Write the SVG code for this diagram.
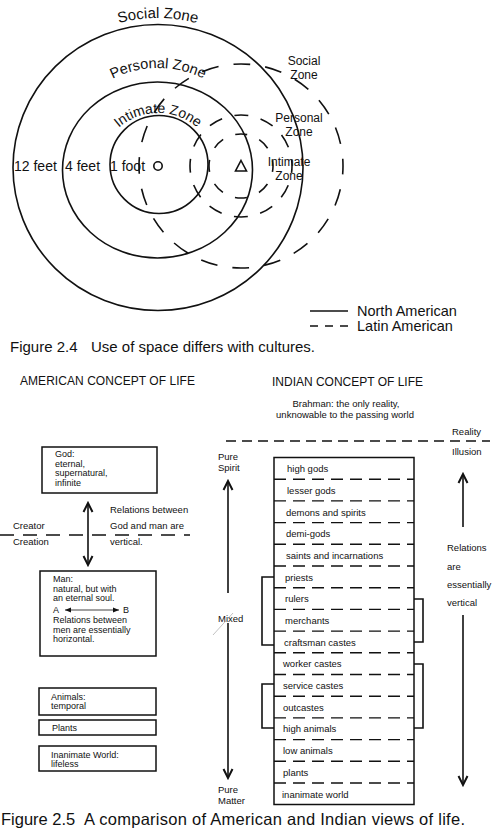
<svg xmlns="http://www.w3.org/2000/svg" width="500" height="840" viewBox="0 0 500 840">
<defs>
<style>
text{font-family:"Liberation Sans",Arial,sans-serif;fill:#111}
.ln{fill:none;stroke:#111;stroke-width:1.6}
.bx{fill:none;stroke:#111;stroke-width:1.5}
.f9{font-size:9.5px}
.f8{font-size:9px}
.z{font-size:12px;text-anchor:middle}
.hd{font-size:12px}
.cap{font-size:15px}
</style>
<marker id="chev" markerUnits="userSpaceOnUse" markerWidth="14" markerHeight="14" viewBox="0 0 14 14" refX="12" refY="7" orient="auto-start-reverse"><path d="M3,2.5 L12,7 L3,11.5" fill="none" stroke="#111" stroke-width="2"/></marker>
<marker id="sm" markerUnits="userSpaceOnUse" markerWidth="8" markerHeight="8" viewBox="0 0 8 8" refX="7" refY="4" orient="auto-start-reverse"><path d="M1,1.5 L7,4 L1,6.5 z" fill="#111"/></marker>
<path id="pSocial" d="M8,168 A150,150 0 0 1 308,168"/>
<path id="pPersonal" d="M56,170 A102,102 0 0 1 260,170"/>
<path id="pIntimate" d="M98,173 A60,60 0 0 1 218,173"/>
</defs>
<rect width="500" height="840" fill="#fff"/>

<g id="fig24">
  <g id="north-american">
    <ellipse class="ln" cx="158" cy="167.5" rx="145" ry="143"/>
    <ellipse class="ln" cx="157.5" cy="170" rx="95" ry="88"/>
    <ellipse class="ln" cx="159" cy="164.5" rx="49" ry="49"/>
    <circle class="ln" cx="158" cy="166" r="4.2" stroke-width="1.8"/>
    <text font-size="15"><textPath href="#pSocial" startOffset="50%" text-anchor="middle">Social Zone</textPath></text>
    <text font-size="14.5"><textPath href="#pPersonal" startOffset="50%" text-anchor="middle">Personal Zone</textPath></text>
    <text font-size="14"><textPath href="#pIntimate" startOffset="50%" text-anchor="middle">Intimate Zone</textPath></text>
    <text x="14" y="171" font-size="14">12 feet</text>
    <text x="65" y="171" font-size="14">4 feet</text>
    <text x="110" y="171" font-size="14">1 foot</text>
  </g>
  <g id="latin-american">
    <circle cx="241" cy="166" r="102" fill="none" stroke="#111" stroke-width="1.6" stroke-dasharray="17 15.05" stroke-dashoffset="8.5"/>
    <circle cx="241" cy="166" r="51" fill="none" stroke="#111" stroke-width="1.6" stroke-dasharray="14 12.7" stroke-dashoffset="7"/>
    <circle cx="241" cy="166" r="32" fill="none" stroke="#111" stroke-width="1.6" stroke-dasharray="12 13.13" stroke-dashoffset="6"/>
    <path class="ln" d="M241,160.5 L246.5,171 L235.5,171 Z" stroke-width="1.8" stroke-linejoin="miter"/>
    <text class="z" x="304" y="65">Social</text>
    <text class="z" x="304" y="79">Zone</text>
    <text class="z" x="299" y="122">Personal</text>
    <text class="z" x="299" y="136">Zone</text>
    <text class="z" x="289" y="166">Intimate</text>
    <text class="z" x="289" y="180">Zone</text>
  </g>
  <g id="legend">
    <line class="ln" x1="310" y1="311" x2="348" y2="311" stroke-width="1.4"/>
    <line class="ln" x1="310" y1="326" x2="348" y2="326" stroke-width="1.4" stroke-dasharray="8 7"/>
    <text x="357" y="316" font-size="14.5">North American</text>
    <text x="357" y="331" font-size="14.5">Latin American</text>
  </g>
  <text id="caption24" class="cap" y="352"><tspan x="10">Figure 2.4</tspan><tspan x="91" textLength="224">Use of space differs with cultures.</tspan></text>
</g>

<g id="american">
  <text class="hd" x="20" y="385" textLength="175">AMERICAN CONCEPT OF LIFE</text>
  <g id="god">
    <rect class="bx" x="42" y="447" width="115" height="46"/>
    <text class="f8" x="55" y="457">God:</text>
    <text class="f8" x="55" y="466.5">eternal,</text>
    <text class="f8" x="55" y="476">supernatural,</text>
    <text class="f8" x="55" y="485.5">infinite</text>
  </g>
  <g id="man">
    <rect class="bx" x="40" y="571" width="116" height="85"/>
    <text class="f8" x="53" y="582">Man:</text>
    <text class="f8" x="53" y="591.5">natural, but with</text>
    <text class="f8" x="53" y="601">an eternal soul.</text>
    <text class="f8" x="53" y="613">A</text>
    <text class="f8" x="123" y="613">B</text>
    <text class="f8" x="53" y="623">Relations between</text>
    <text class="f8" x="53" y="632.5">men are essentially</text>
    <text class="f8" x="53" y="642">horizontal.</text>
  </g>
  <g id="animals">
    <rect class="bx" x="39" y="688" width="117" height="27"/>
    <text class="f8" x="51" y="699.5">Animals:</text>
    <text class="f8" x="51" y="709">temporal</text>
  </g>
  <g id="plants">
    <rect class="bx" x="39" y="720" width="117" height="15"/>
    <text class="f8" x="52" y="731">Plants</text>
  </g>
  <g id="inanimate">
    <rect class="bx" x="39" y="746" width="117" height="25"/>
    <text class="f8" x="51" y="757.5">Inanimate World:</text>
    <text class="f8" x="51" y="767">lifeless</text>
  </g>
  <line id="creator-line" x1="0" y1="535" x2="190" y2="535" fill="none" stroke="#111" stroke-width="1.6" stroke-dasharray="14 9"/>
  <text class="f9" x="13" y="529">Creator</text>
  <text class="f9" x="13" y="545">Creation</text>
  <text class="f9" x="110" y="513">Relations between</text>
  <text class="f9" x="110" y="529">God and man are</text>
  <text class="f9" x="110" y="545">vertical.</text>
</g>

<g id="indian">
  <text class="hd" x="272" y="386" textLength="151">INDIAN CONCEPT OF LIFE</text>
  <text class="f9" x="346" y="407" text-anchor="middle">Brahman: the only reality,</text>
  <text class="f9" x="345" y="418" text-anchor="middle">unknowable to the passing world</text>
  <line id="reality-line" x1="226" y1="441" x2="490" y2="441" fill="none" stroke="#111" stroke-width="1.5" stroke-dasharray="10 6"/>
  <text class="f9" x="452" y="435">Reality</text>
  <text class="f9" x="452" y="455">Illusion</text>
  <text class="f9" x="218" y="460">Pure</text>
  <text class="f9" x="218" y="471">Spirit</text>
  <text class="f9" x="218" y="622">Mixed</text>
  <text class="f9" x="218" y="793">Pure</text>
  <text class="f9" x="218" y="804">Matter</text>
  <line x1="233" y1="613" x2="213" y2="635" stroke="#999" stroke-width="0.6"/>
  <text class="f9" x="447" y="551">Relations</text>
  <text class="f9" x="447" y="570">are</text>
  <text class="f9" x="447" y="588">essentially</text>
  <text class="f9" x="447" y="606">vertical</text>
  <g id="hierarchy">
    <rect class="bx" x="274" y="457.5" width="140" height="347"/>
    <g fill="none" stroke="#111" stroke-width="1.4" stroke-dasharray="12 7">
      <line x1="274" y1="479.2" x2="414" y2="479.2"/>
      <line x1="274" y1="500.9" x2="414" y2="500.9"/>
      <line x1="274" y1="522.6" x2="414" y2="522.6"/>
      <line x1="274" y1="544.3" x2="414" y2="544.3"/>
      <line x1="274" y1="566.0" x2="414" y2="566.0"/>
      <line x1="274" y1="587.7" x2="414" y2="587.7"/>
      <line x1="274" y1="609.4" x2="414" y2="609.4"/>
      <line x1="274" y1="631.1" x2="414" y2="631.1"/>
      <line x1="274" y1="652.8" x2="414" y2="652.8"/>
      <line x1="274" y1="674.5" x2="414" y2="674.5"/>
      <line x1="274" y1="696.2" x2="414" y2="696.2"/>
      <line x1="274" y1="717.9" x2="414" y2="717.9"/>
      <line x1="274" y1="739.6" x2="414" y2="739.6"/>
      <line x1="274" y1="761.3" x2="414" y2="761.3"/>
      <line x1="274" y1="783.0" x2="414" y2="783.0"/>
    </g>
    <g class="f9">
      <text x="287" y="472">high gods</text>
      <text x="287" y="494">lesser gods</text>
      <text x="286" y="515.5">demons and spirits</text>
      <text x="286" y="537">demi-gods</text>
      <text x="286" y="559">saints and incarnations</text>
      <text x="285" y="580.5">priests</text>
      <text x="285" y="602">rulers</text>
      <text x="285" y="624">merchants</text>
      <text x="284" y="645.5">craftsman castes</text>
      <text x="283" y="667">worker castes</text>
      <text x="283" y="689">service castes</text>
      <text x="283" y="710.5">outcastes</text>
      <text x="283" y="732">high animals</text>
      <text x="283" y="754">low animals</text>
      <text x="283" y="776">plants</text>
      <text x="282" y="797.5">inanimate world</text>
    </g>
  </g>
</g>

<g id="connectors">
  <line class="ln" x1="88" y1="503" x2="88" y2="565" marker-start="url(#chev)" marker-end="url(#chev)"/>
  <line x1="65" y1="610" x2="119" y2="610" stroke="#111" stroke-width="0.8" marker-start="url(#sm)" marker-end="url(#sm)"/>
  <line class="ln" x1="228" y1="593" x2="228" y2="481" marker-end="url(#chev)"/>
  <line class="ln" x1="228" y1="623" x2="228" y2="778" marker-end="url(#chev)"/>
  <line class="ln" x1="463" y1="527" x2="463" y2="474" marker-end="url(#chev)"/>
  <line class="ln" x1="463" y1="615" x2="463" y2="785" marker-end="url(#chev)"/>
  <path class="ln" d="M274,577 H262 V645 H274"/>
  <path class="ln" d="M274,684 H262 V728 H274"/>
  <path class="ln" d="M414,599 H423 V642 H414"/>
  <path class="ln" d="M414,664 H423 V728 H414"/>
</g>

<text id="caption25" font-size="16.5" y="825"><tspan x="1">Figure 2.5</tspan><tspan x="84" textLength="381">A comparison of American and Indian views of life.</tspan></text>
</svg>
